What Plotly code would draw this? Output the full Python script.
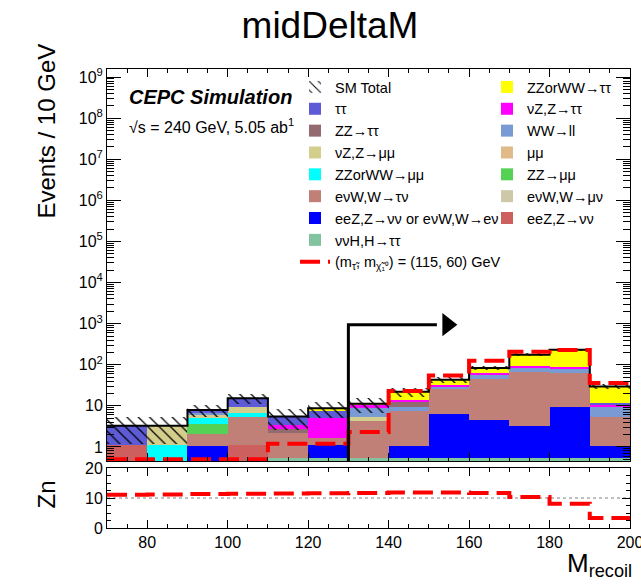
import numpy as np
import plotly.graph_objects as go

# ---------------- data ----------------
bin_edges = [70, 80, 90, 100, 110, 120, 130, 140, 150, 160, 170, 180, 190, 200]
bin_centers = [75, 85, 95, 105, 115, 125, 135, 145, 155, 165, 175, 185, 195]

# background stack, bottom -> top (events / 10 GeV)
vvH_Htautau      = [0, 0, 0, 0, 0.54, 0.54, 0.54, 0.54, 0.54, 0.54, 0.54, 0.54, 0.54]
eeZ_Zvv          = [1.1, 0, 0, 1.12, 0, 0, 0, 0, 0, 0, 0, 0, 0]
eeZ_or_evW_ev    = [0, 0, 1.08, 0, 0, 0.58, 0, 0.52, 5.7, 4.0, 2.7, 9.1, 0.54]
evW_Wmunu        = [0, 0, 0, 0, 0, 0, 0, 0, 0, 0, 0, 0, 0]
evW_Wtaunu       = [0, 0, 1.0, 4.18, 1.62, 0.51, 3.76, 6.24, 19.3, 40.5, 65.3, 53.4, 4.22]
ZZ_mumu          = [0, 0, 1.5, 0, 0, 0, 0, 0, 0, 0, 0, 0, 0]
ZZorWW_mumu      = [0, 1.1, 1.4, 1.3, 0, 0, 0, 0, 0, 0, 0, 0, 0]
mumu             = [0, 0, 0, 0, 0, 0, 0, 0, 0, 0, 0, 0, 0]
vZ_Zmumu         = [0, 2.2, 1.0, 3.0, 0, 0, 1.2, 0, 0, 0, 0, 0, 0]
WW_ll            = [0, 0, 0.9, 0, 0, 0, 3.6, 2.3, 4.0, 12.0, 14.5, 15.5, 4.3]
ZZ_tautau        = [0, 0, 0, 0, 0.54, 0, 0, 3.1, 0, 0, 0, 0, 0]
vZ_Ztautau       = [0, 0, 0, 0, 0.74, 3.37, 1.5, 1.3, 3.0, 6.0, 11.5, 12.0, 1.0]
tautau           = [2.2, 0, 1.1, 5.8, 2.06, 2.6, 0, 0, 0, 0, 0, 0, 1.0]
ZZorWW_tautau    = [0, 0, 0, 0, 0, 1.2, 0.6, 8.0, 10.5, 20.0, 80.5, 141.5, 17.9]

sm_uncertainty   = [2.1, 2.1, 2.6, 4.2, 2.9, 3.7, 4.4, 5.5, 6.0, 10.0, 15.0, 15.0, 4.0]

signal_115_60    = [0.5, 0.5, 0.5, 0.5, 1.2, 1.2, 2.3, 23, 55, 125, 207, 230, 36]
zn_values        = [11.1, 11.2, 11.3, 11.4, 11.5, 11.6, 11.7, 11.8, 11.8, 11.7, 10.3, 8.1, 3.3]

cut_value = 130
arrow_end = 152
arrowhead_x = 154.6
arrow_level = 945

y_tickvals = [1, 10, 1e2, 1e3, 1e4, 1e5, 1e6, 1e7, 1e8, 1e9]
y_ticktext = ["1", "10", "10<sup>2</sup>", "10<sup>3</sup>", "10<sup>4</sup>", "10<sup>5</sup>",
              "10<sup>6</sup>", "10<sup>7</sup>", "10<sup>8</sup>", "10<sup>9</sup>"]

# (name, values, color, legend, rank)
stack = [
    ("ννH,H→ττ", vvH_Htautau, "#82c3a0", "legend", 8),
    ("eeZ,Z→νν", eeZ_Zvv, "#cd5f5f", "legend2", 7),
    ("eeZ,Z→νν or eνW,W→eν", eeZ_or_evW_ev, "#0000ff", "legend", 7),
    ("eνW,W→μν", evW_Wmunu, "#cdc8aa", "legend2", 6),
    ("eνW,W→τν", evW_Wtaunu, "#c08078", "legend", 6),
    ("ZZ→μμ", ZZ_mumu, "#55d255", "legend2", 5),
    ("ZZorWW→μμ", ZZorWW_mumu, "#00ffff", "legend", 5),
    ("μμ", mumu, "#e0ba88", "legend2", 4),
    ("νZ,Z→μμ", vZ_Zmumu, "#d4ce8c", "legend", 4),
    ("WW→ll", WW_ll, "#7a9ad4", "legend2", 3),
    ("ZZ→ττ", ZZ_tautau, "#936a70", "legend", 3),
    ("νZ,Z→ττ", vZ_Ztautau, "#ff00ff", "legend2", 2),
    ("ττ", tautau, "#5d5bd6", "legend", 2),
    ("ZZorWW→ττ", ZZorWW_tautau, "#ffff00", "legend2", 1),
]

FONT = "Liberation Sans, Arial, Helvetica, sans-serif"

fig = go.Figure()

base = np.zeros(len(bin_centers))
for name, vals, color, leg, rank in stack:
    v = np.array(vals, dtype=float)
    fig.add_trace(go.Bar(
        x=bin_centers, y=v, base=base.copy(), width=10,
        name=name, marker=dict(color=color, line=dict(width=0)),
        legend=leg, legendrank=rank, xaxis="x", yaxis="y",
    ))
    base = base + v

total = base
err = np.array(sm_uncertainty)

# hatched uncertainty band
fig.add_trace(go.Bar(
    x=bin_centers, y=2 * err, base=total - err, width=10, name="SM Total",
    marker=dict(color="rgba(0,0,0,0)", line=dict(width=0),
                pattern=dict(shape="\\", fgcolor="black", bgcolor="rgba(0,0,0,0)",
                             fgopacity=1, size=8, solidity=0.16, fillmode="overlay")),
    legend="legend", legendrank=1, xaxis="x", yaxis="y",
))

# SM total outline
fig.add_trace(go.Scatter(
    x=bin_edges, y=list(total) + [total[-1]], mode="lines", line_shape="hv",
    line=dict(color="black", width=2), showlegend=False, xaxis="x", yaxis="y",
))

# signal
fig.add_trace(go.Scatter(
    x=bin_edges, y=signal_115_60 + [signal_115_60[-1]], mode="lines", line_shape="hv",
    line=dict(color="#ff0000", width=4, dash="20px,8px"),
    name="(m<sub>τ̃</sub>, m<sub>χ̃₁⁰</sub>) = (115, 60) GeV",
    legend="legend", legendrank=9, xaxis="x", yaxis="y",
))

# cut arrow
fig.add_trace(go.Scatter(
    x=[cut_value, cut_value, arrow_end], y=[0.1, arrow_level, arrow_level], mode="lines",
    line=dict(color="black", width=3), showlegend=False, xaxis="x", yaxis="y",
))
fig.add_trace(go.Scatter(
    x=[arrowhead_x], y=[arrow_level], mode="markers",
    marker=dict(symbol="triangle-right", size=20, color="black"),
    showlegend=False, xaxis="x", yaxis="y",
))

# Zn panel
fig.add_trace(go.Scatter(
    x=bin_edges, y=zn_values + [zn_values[-1]], mode="lines", line_shape="hv",
    line=dict(color="#ff0000", width=4, dash="20px,8px"),
    showlegend=False, xaxis="x2", yaxis="y2",
))

xdom = [107 / 641, 630 / 641]
ydom_main = [1 - 461 / 586, 1 - 69 / 586]
ydom_bot = [1 - 528 / 586, 1 - 468 / 586]

minor_log = [k * 10.0 ** n for n in range(-1, 10) for k in range(2, 10)]

axis_common = dict(showline=True, linecolor="black", linewidth=1, mirror="allticks",
                   ticks="inside", tickcolor="black", showgrid=False, zeroline=False,
                   automargin=False,
                   tickfont=dict(size=16, family=FONT, color="black"))


def note(text, px, py, size, **kw):
    d = dict(text=text, x=px / 641, y=1 - py / 586, xref="paper", yref="paper",
             showarrow=False, yanchor="middle", font=dict(size=size, family=FONT, color="black"))
    d.update(kw)
    return d


fig.update_layout(
    width=641, height=586, margin=dict(l=0, r=0, t=0, b=0, autoexpand=False),
    paper_bgcolor="white", plot_bgcolor="white",
    barmode="overlay", bargap=0,
    font=dict(family=FONT, color="black"),
    title=dict(text="midDeltaM", x=330 / 641, y=1 - 25 / 586, xref="paper", yref="container",
               xanchor="center", yanchor="middle", automargin=False,
               font=dict(size=37, family=FONT, color="black")),
    showlegend=True,
    legend=dict(x=295 / 641, y=1 - 71 / 586, xanchor="left", yanchor="top",
                bgcolor="rgba(0,0,0,0)", font=dict(size=14.5, family=FONT),
                traceorder="normal", tracegroupgap=0),
    legend2=dict(x=487 / 641, y=1 - 71 / 586, xanchor="left", yanchor="top",
                 bgcolor="rgba(0,0,0,0)", font=dict(size=14.5, family=FONT),
                 traceorder="normal", tracegroupgap=0),
    xaxis=dict(domain=xdom, range=[70, 200], anchor="y", showticklabels=False,
               tick0=0, dtick=20, ticklen=8,
               minor=dict(dtick=5, ticks="inside", ticklen=4, tickcolor="black"),
               **axis_common),
    yaxis=dict(domain=ydom_main, type="log", range=[-0.341, 9.195], anchor="x",
               tickmode="array", tickvals=y_tickvals, ticktext=y_ticktext, ticklen=14,
               minor=dict(tickvals=minor_log, ticks="inside", ticklen=7, tickcolor="black"),
               **axis_common),
    xaxis2=dict(domain=xdom, range=[70, 200], anchor="y2", matches="x",
                tick0=0, dtick=20, ticklen=8, ticklabeloverflow="allow",
                minor=dict(dtick=5, ticks="inside", ticklen=4, tickcolor="black"),
                **axis_common),
    yaxis2=dict(domain=ydom_bot, range=[0, 20], anchor="x2",
                tickmode="array", tickvals=[0, 10, 20], ticklen=8,
                minor=dict(dtick=2.5, ticks="inside", ticklen=4, tickcolor="black"),
                **axis_common),
    shapes=[dict(type="line", xref="x2", yref="y2", x0=70, x1=200, y0=10, y1=10,
                 line=dict(color="gray", width=1, dash="dot"), layer="below")],
    annotations=[
        note("Events / 10 GeV", 30, 131, 24, textangle=-90),
        note("Zn", 30, 495, 24, textangle=-90),
        note("M<sub>recoil</sub>", 634, 583, 26, xanchor="right", yanchor="bottom"),
        note("<b><i>CEPC Simulation</i></b>", 127, 97, 20, xanchor="left"),
        note("√s = 240 GeV, 5.05 ab<sup>1</sup>", 127, 126, 16, xanchor="left"),
    ],
)

post = (
    "document.documentElement.style.overflow='hidden';"
    "document.body.style.margin='0px';"
    "document.body.style.overflow='hidden';"
)

fig.write_html("out.html", config={"displayModeBar": False}, post_script=post)
